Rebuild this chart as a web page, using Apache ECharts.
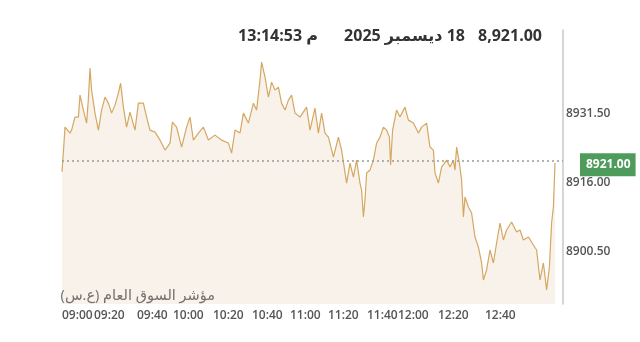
<!DOCTYPE html>
<html>
<head>
<meta charset="utf-8">
<script src="https://cdn.jsdelivr.net/npm/echarts@6/dist/echarts.min.js"></script>
<style>html,body{margin:0;padding:0;background:#fff}#c{width:640px;height:342px}</style>
</head>
<body>
<div id="c"></div>
<script>
// sequence position of each sample (trade index scale) and index level
const seq = [0,1,1.5,4,4.8,6.5,8.2,9,10.7,12.3,13.2,14,14.8,16.5,18.2,19.8,21.5,23.2,24.8,26.5,28.2,29.3,30.7,32.3,34,36.5,38.2,40.7,42.3,44,46.5,49,51.5,54,55.2,57.3,59.8,62.3,64,65.7,68.2,70.7,73.2,76.5,79.8,83.2,84.8,86.5,89,90.7,93.2,95.7,97.3,99,99.8,101.5,103.2,104.8,106.5,108.2,109.8,111.5,113.2,114.8,116.5,119,
  122.3,124,126.5,128.2,129.8,131.5,133.2,135.7,138.2,139.8,142.3,144,145.7,147.3,149,149.8,150.7,151.5,152.3,154,155.7,157.3,159,160.7,162.3,163.7,164.3,165.3,167.3,169,171.5,173.2,175.7,178.2,179.8,182.3,184,185.7,186.5,188.2,189.8,192.3,194,195.7,196.5,197.3,198.7,199.8,200.7,201.5,203.2,204.8,206.5,208.2,209.8,210.7,212.3,214,215.7,217.3,219,220.7,222.3,224.8,227.3,229,230.7,233.2,235.7,237.3,239,240.7,242.3,243.7,244.8,245.7,246.5];
const price = [8918.53,8924.98,8928.57,8927.22,8927.90,8930.82,8930.82,8935.76,8932.39,8929.47,8935.00,8941.82,8936.88,8931.71,8927.90,8932.39,8935.31,8933.96,8931.71,8933.51,8936.21,8938.45,8933.06,8928.57,8931.94,8927.90,8933.96,8933.96,8930.82,8927.90,8927.45,8925.65,8923.40,8924.98,8929.69,8928.57,8924.08,8928.57,8930.82,8925.65,8927.22,8928.57,8925.65,8926.77,8925.65,8924.98,8922.73,8927.90,8927.22,8931.71,8929.47,8933.96,8932.39,8939.13,8943.17,8939.80,8935.31,8938.68,8936.88,8937.55,8933.96,8932.39,8934.63,8935.76,8931.71,8930.82,
  8933.06,8927.90,8932.84,8927.22,8931.71,8927.22,8926.32,8921.83,8926.32,8923.40,8915.99,8920.48,8917.34,8921.16,8915.99,8914.42,8908.35,8912.17,8918.24,8918.91,8921.16,8924.98,8926.32,8928.57,8927.90,8926.32,8920.03,8927.90,8932.39,8930.82,8933.06,8930.14,8929.47,8927.22,8928.57,8929.47,8924.08,8923.40,8918.24,8915.99,8919.58,8921.16,8919.58,8921.16,8918.91,8924.08,8920.48,8916.66,8908.35,8912.85,8910.60,8909.25,8903.86,8901.62,8898.02,8894.20,8896.45,8900.94,8898.02,8902.51,8907.01,8903.19,8905.43,8907.23,8904.98,8905.43,8903.19,8903.86,8902.06,8900.94,8894.20,8898.02,8891.96,8897.12,8907.01,8910.60,8920.48];
const lastValue = 8921;
const xTickPos = [0,16,37.5,55.5,75.5,95,114,133,152.5,168,188,211.5];
const xTickLabels = ['09:00','09:20','09:40','10:00','10:20','10:40','11:00','11:20','11:40','12:00','12:20','12:40'];
const yTicks = [8900.5,8916,8931.5];
const headerValue = '8,921.00';
const headerDate = '18 ديسمبر 2025';
const headerTime = '13:14:53 م';
const seriesName = 'مؤشر السوق العام (ع.س)';

const FONT = "'Open Sans','DejaVu Sans',sans-serif";
const chart = echarts.init(document.getElementById('c'), null, {renderer:'canvas'});
chart.setOption({
  animation:false,
  grid:{left:62,right:77,top:30,bottom:38},
  xAxis:{
    type:'value', min:0, max:250.5,
    axisLine:{show:false}, axisTick:{show:false}, splitLine:{show:false},
    axisLabel:{
      customValues:xTickPos, align:'left', margin:6, showMinLabel:true, hideOverlap:false,
      color:'#555', fontSize:12, fontWeight:600, fontFamily:FONT,
      formatter:(v)=>{const i=xTickPos.indexOf(v);return i>=0?xTickLabels[i]:'';}
    }
  },
  yAxis:{
    type:'value', position:'right', min:8888.8, max:8950.4, scale:true,
    axisLine:{show:true, onZero:false, lineStyle:{color:'#c8c8c8', width:1.5}},
    axisTick:{show:false}, splitLine:{show:false},
    axisLabel:{
      customValues:yTicks, margin:3,
      color:'#555', fontSize:12, fontWeight:600, fontFamily:FONT,
      formatter:(v)=>v.toFixed(2)
    }
  },
  series:[{
    type:'line', name:seriesName,
    data:seq.map((s,i)=>[s,price[i]]),
    symbol:'none',
    lineStyle:{color:'#d4a862', width:1.2},
    areaStyle:{color:'#f8f2ea', opacity:1, origin:'start'},
    markLine:{
      silent:true, symbol:['none','none'],
      lineStyle:{type:[2,3], color:'#9a9a9a', width:1.5},
      label:{
        position:'end', distance:17, offset:[0,4],
        formatter:()=>lastValue.toFixed(2),
        backgroundColor:'#4e9c5c', color:'#fff', fontWeight:'bold',
        fontSize:12, fontFamily:FONT, padding:[6,5,5,6]
      },
      data:[{yAxis:lastValue}]
    }
  }],
  graphic:[
    {type:'text', z:100, right:640-542, top:28, style:{text:headerValue, font:"bold 16px "+FONT, fill:'#333'}},
    {type:'text', z:100, right:640-465, top:28, style:{text:'\u202B'+headerDate+'\u202C', font:"bold 16px "+FONT, fill:'#333'}},
    {type:'text', z:100, right:640-318, top:28, style:{text:headerTime, font:"bold 16px "+FONT, fill:'#333'}},
    {type:'text', z:100, right:640-215, top:288, style:{text:'\u202B'+seriesName+'\u202C', font:"14.5px "+FONT, fill:'#707070'}}
  ]
});
</script>
</body>
</html>
